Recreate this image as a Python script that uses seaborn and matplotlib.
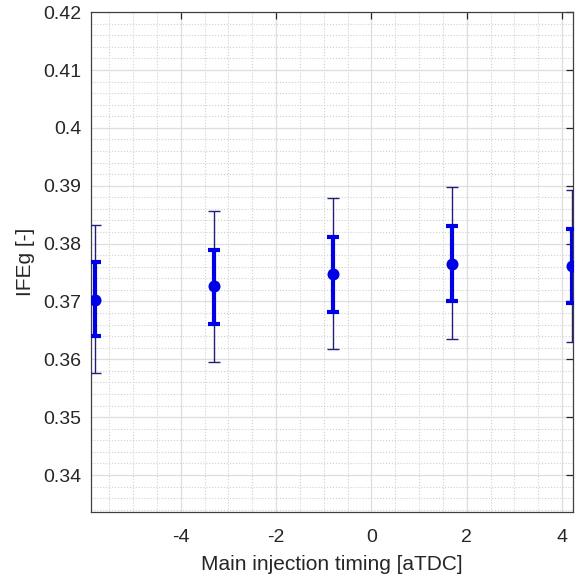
import numpy as np
import pandas as pd
import seaborn as sns
import matplotlib.pyplot as plt
from matplotlib.ticker import MultipleLocator

# main injection timing [aTDC]
timing = [-5.8, -3.3, -0.8, 1.7, 4.2]
# IFEg mean and bands
ifeg_mean = [0.3703, 0.3726, 0.3747, 0.3765, 0.3761]
inner_low = [0.3641, 0.3661, 0.3682, 0.3700, 0.3697]
inner_high = [0.3769, 0.3789, 0.3812, 0.3830, 0.3826]
outer_low = [0.3576, 0.3596, 0.3618, 0.3636, 0.3630]
outer_high = [0.3832, 0.3857, 0.3878, 0.3897, 0.3893]

df = pd.DataFrame({'timing': timing, 'ifeg': ifeg_mean,
                   'in_lo': inner_low, 'in_hi': inner_high,
                   'out_lo': outer_low, 'out_hi': outer_high})

sns.set_style('whitegrid')
plt.rcParams['font.family'] = ['Liberation Sans', 'DejaVu Sans']
plt.rcParams['axes.unicode_minus'] = False

fig = plt.figure(figsize=(5.76, 5.78), dpi=100)
ax = fig.add_axes([0.158, 0.114, 0.837, 0.865])

# thin outer bars
ax.errorbar(df['timing'], df['ifeg'],
            yerr=[df['ifeg'] - df['out_lo'], df['out_hi'] - df['ifeg']],
            fmt='none', ecolor='#20207a', elinewidth=1.0, capsize=4.2, capthick=1.0, zorder=3)
# thick inner bars
ax.errorbar(df['timing'], df['ifeg'],
            yerr=[df['ifeg'] - df['in_lo'], df['in_hi'] - df['ifeg']],
            fmt='none', ecolor='#0000e6', elinewidth=3.0, capsize=4.2, capthick=3.0, zorder=4)
sns.scatterplot(data=df, x='timing', y='ifeg', ax=ax, color='#0000e6', s=75,
                edgecolor='#0000e6', linewidth=0, zorder=5, legend=False)

ax.set_xlim(-5.88, 4.23)
ax.set_ylim(0.3336, 0.42)
ax.xaxis.set_major_locator(MultipleLocator(2))
ax.xaxis.set_minor_locator(MultipleLocator(0.5))
ax.yaxis.set_major_locator(MultipleLocator(0.01))
ax.yaxis.set_minor_locator(MultipleLocator(0.002))
ax.yaxis.set_major_formatter(plt.FuncFormatter(lambda v, p: f'{v:.2f}'.rstrip('0') if abs(v - 0.4) < 1e-9 else f'{v:.2f}'))

ax.grid(True, which='major', color='#dedede', linewidth=0.9, linestyle='-')
ax.grid(True, which='minor', color='#d0d0d0', linewidth=0.8, linestyle=':')
ax.set_axisbelow(True)

for s in ax.spines.values():
    s.set_color('#404040')
    s.set_linewidth(0.9)
ax.tick_params(which='major', direction='in', length=5, width=0.9, color='#262626',
               top=True, right=True, labelsize=14, labelcolor='#262626', pad=7)
ax.tick_params(axis='x', which='major', pad=12.5)
ax.tick_params(which='minor', length=0, top=True, right=True)

ax.set_xlabel('Main injection timing [aTDC]', fontsize=15, color='#262626', labelpad=6)
ax.set_ylabel('IFEg [-]', fontsize=15, color='#262626', labelpad=6)

fig.savefig('out.png', dpi=100)
